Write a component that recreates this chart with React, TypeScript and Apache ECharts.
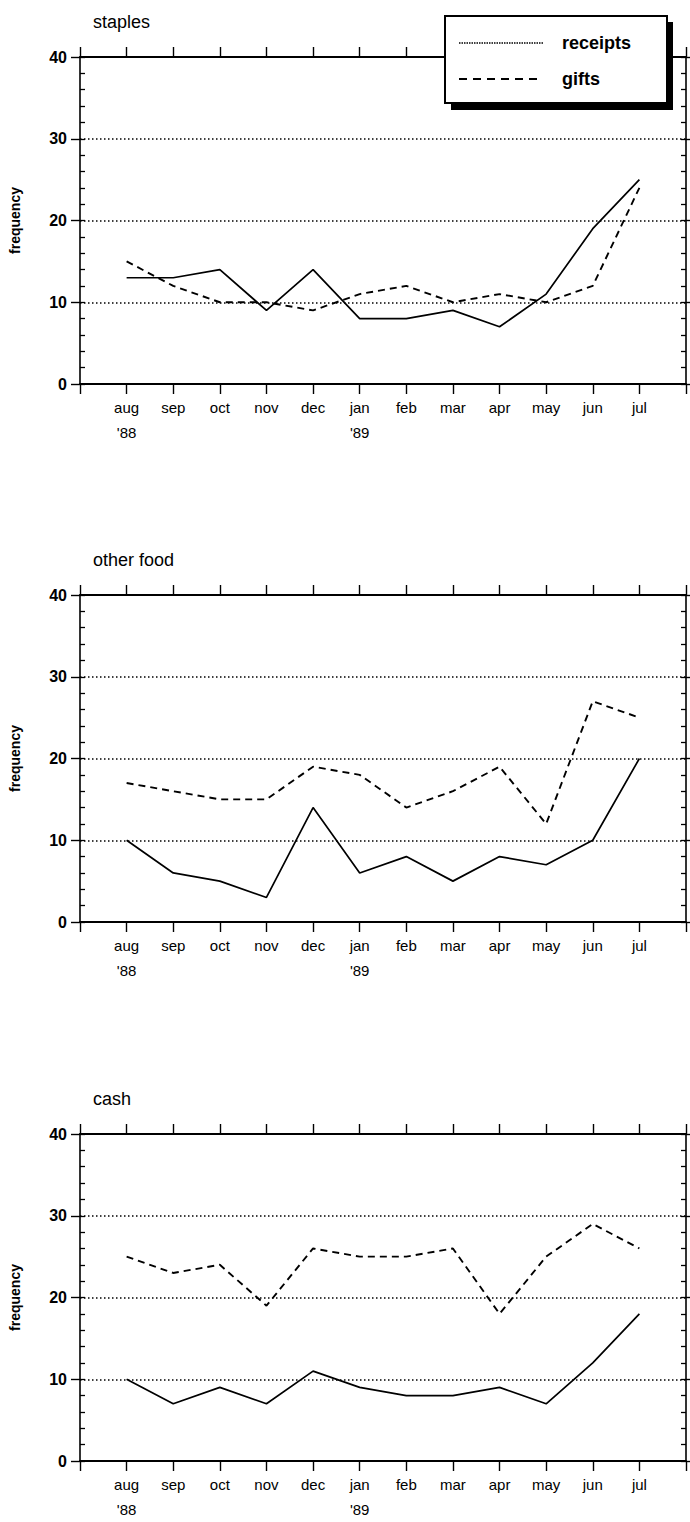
import React, { useEffect, useRef } from "react";
import * as echarts from "echarts";

const months = ["aug", "sep", "oct", "nov", "dec", "jan", "feb", "mar", "apr", "may", "jun", "jul"];
const years = ["'88", "", "", "", "", "'89", "", "", "", "", "", ""];
const panelTitles = ["staples", "other food", "cash"];
const legendNames = ["receipts", "gifts"];

const staplesReceipts = [13, 13, 14, 9, 14, 8, 8, 9, 7, 11, 19, 25];
const staplesGifts = [15, 12, 10, 10, 9, 11, 12, 10, 11, 10, 12, 24];
const otherFoodReceipts = [10, 6, 5, 3, 14, 6, 8, 5, 8, 7, 10, 20];
const otherFoodGifts = [17, 16, 15, 15, 19, 18, 14, 16, 19, 12, 27, 25];
const cashReceipts = [10, 7, 9, 7, 11, 9, 8, 8, 9, 7, 12, 18];
const cashGifts = [25, 23, 24, 19, 26, 25, 25, 26, 18, 25, 29, 26];

const receiptsSeries = [staplesReceipts, otherFoodReceipts, cashReceipts];
const giftsSeries = [staplesGifts, otherFoodGifts, cashGifts];

const FONT = "'Liberation Sans', Arial, Helvetica, sans-serif";
const GRID_TOPS = [57, 595, 1134];
const GRID_H = 327;
const GRID_L = 75;
const GRID_W = 611;

export default function App() {
  const ref = useRef<HTMLDivElement>(null);
  useEffect(() => {
    if (!ref.current) return;
    const chart = echarts.init(ref.current, null, { renderer: "svg" });

    const grid: any[] = [];
    const xAxis: any[] = [];
    const yAxis: any[] = [];
    const series: any[] = [];
    const title: any[] = [];

    GRID_TOPS.forEach((top, p) => {
      grid.push({ left: GRID_L, top, width: GRID_W, height: GRID_H, containLabel: false });
      title.push({
        text: panelTitles[p],
        left: 88,
        top: top - 49,
        textStyle: { fontFamily: FONT, fontSize: 18, fontWeight: "normal", color: "#000" },
      });
      const xb = xAxis.length;
      xAxis.push({
        type: "value",
        gridIndex: p,
        position: "bottom",
        min: 0,
        max: 13,
        interval: 1,
        axisLine: { show: true, onZero: false, lineStyle: { color: "#000", width: 1.8 } },
        axisTick: { show: true, length: 10, lineStyle: { color: "#000", width: 1.4 } },
        splitLine: { show: false },
        axisLabel: {
          show: true,
          margin: 11,
          fontFamily: FONT,
          fontSize: 15,
          color: "#000",
          lineHeight: 25,
          showMinLabel: true,
          showMaxLabel: true,
          formatter: (v: number) => {
            const i = Math.round(v) - 1;
            if (i < 0 || i >= months.length) return "";
            return months[i] + "\n" + (years[i] || " ");
          },
        },
      });
      xAxis.push({
        type: "value",
        gridIndex: p,
        position: "top",
        min: 0,
        max: 13,
        interval: 1,
        axisLine: { show: true, onZero: false, lineStyle: { color: "#000", width: 2 } },
        axisTick: { show: true, length: 10, lineStyle: { color: "#000", width: 1.4 } },
        splitLine: { show: false },
        axisLabel: { show: false },
      });
      const ya = yAxis.length;
      yAxis.push({
        type: "value",
        gridIndex: p,
        position: "left",
        min: 0,
        max: 40,
        interval: 10,
        name: "frequency",
        nameLocation: "middle",
        nameGap: 58,
        nameTextStyle: { fontFamily: FONT, fontSize: 14, fontWeight: "bold", color: "#000" },
        axisLine: { show: true, onZero: false, lineStyle: { color: "#000", width: 1.6 } },
        axisTick: { show: true, length: 9, lineStyle: { color: "#000", width: 1.4 } },
        axisLabel: { show: true, margin: 13, fontFamily: FONT, fontSize: 16, fontWeight: "bold", color: "#000" },
        splitLine: { show: true, lineStyle: { color: "#000", width: 1.5, type: [1.5, 2.5] } },
      });
      yAxis.push({
        type: "value",
        gridIndex: p,
        position: "left",
        min: 0,
        max: 40,
        interval: 2,
        axisLine: { show: false, onZero: false },
        axisTick: { show: true, inside: true, length: 5, lineStyle: { color: "#000", width: 1.3 } },
        axisLabel: { show: false },
        splitLine: { show: false },
      });
      yAxis.push({
        type: "value",
        gridIndex: p,
        position: "right",
        min: 0,
        max: 40,
        interval: 10,
        axisLine: { show: true, onZero: false, lineStyle: { color: "#000", width: 1.6 } },
        axisTick: { show: true, length: 5, lineStyle: { color: "#000", width: 1.4 } },
        axisLabel: { show: false },
        splitLine: { show: false },
      });
      yAxis.push({
        type: "value",
        gridIndex: p,
        position: "right",
        min: 0,
        max: 40,
        interval: 2,
        axisLine: { show: false, onZero: false },
        axisTick: { show: true, inside: true, length: 5, lineStyle: { color: "#000", width: 1.3 } },
        axisLabel: { show: false },
        splitLine: { show: false },
      });

      series.push({
        name: legendNames[0],
        type: "line",
        xAxisIndex: xb,
        yAxisIndex: ya,
        data: receiptsSeries[p].map((v, i) => [i + 1, v]),
        showSymbol: false,
        symbol: "none",
        lineStyle: { color: "#000", width: 1.7, type: "solid" },
        z: 5,
      });
      series.push({
        name: legendNames[1],
        type: "line",
        xAxisIndex: xb,
        yAxisIndex: ya,
        data: giftsSeries[p].map((v, i) => [i + 1, v]),
        showSymbol: false,
        symbol: "none",
        lineStyle: { color: "#000", width: 1.9, type: [7, 5] },
        z: 5,
      });
    });

    const Z = 100;
    const graphic: any = {
      z: Z,
      elements: [
        { type: "rect", z: Z, shape: { x: 451, y: 22, width: 222, height: 88 }, style: { fill: "#000" } },
        {
          type: "rect",
          z: Z + 1,
          shape: { x: 445, y: 16, width: 222, height: 87 },
          style: { fill: "#fff", stroke: "#000", lineWidth: 2 },
        },
        {
          type: "line",
          z: Z + 2,
          shape: { x1: 459, y1: 43, x2: 543, y2: 43 },
          style: { stroke: "#000", lineWidth: 1.4, lineDash: [1.5, 1] },
        },
        {
          type: "text",
          z: Z + 2,
          style: {
            text: legendNames[0],
            x: 562,
            y: 43,
            verticalAlign: "middle",
            fontFamily: FONT,
            fontSize: 18,
            fontWeight: "bold",
            fill: "#000",
          },
        },
        {
          type: "line",
          z: Z + 2,
          shape: { x1: 459, y1: 79, x2: 543, y2: 79 },
          style: { stroke: "#000", lineWidth: 1.8, lineDash: [8, 6] },
        },
        {
          type: "text",
          z: Z + 2,
          style: {
            text: legendNames[1],
            x: 562,
            y: 79,
            verticalAlign: "middle",
            fontFamily: FONT,
            fontSize: 18,
            fontWeight: "bold",
            fill: "#000",
          },
        },
      ],
    };

    chart.setOption({
      animation: false,
      backgroundColor: "#fff",
      textStyle: { fontFamily: FONT },
      title,
      grid,
      xAxis,
      yAxis,
      series,
      graphic,
    });
    return () => chart.dispose();
  }, []);

  return (
    <div
      ref={ref}
      style={{ position: "absolute", left: 0, top: 0, width: 690, height: 1522, background: "#fff" }}
    />
  );
}
